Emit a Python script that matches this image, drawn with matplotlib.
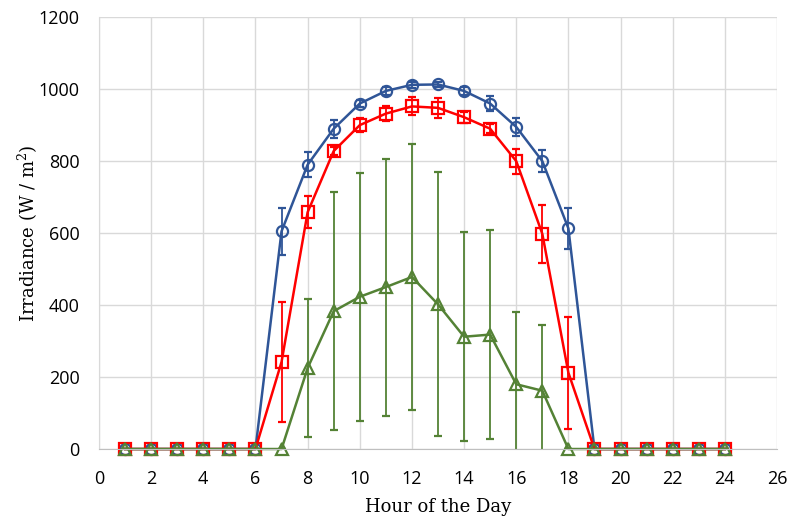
import matplotlib.pyplot as plt
import numpy as np

plt.rcParams['mathtext.fontset'] = 'custom'
plt.rcParams['mathtext.rm'] = 'DejaVu Serif'
plt.rcParams['mathtext.it'] = 'DejaVu Serif'

hours = list(range(1, 25))

# clear sky (blue circles)
clear = [0, 0, 0, 0, 0, 0, 605, 790, 890, 960, 995, 1012,
         1013, 995, 960, 895, 800, 613, 0, 0, 0, 0, 0, 0]
clear_err = [0, 0, 0, 0, 0, 0, 65, 35, 25, 10, 10, 8,
             8, 10, 20, 25, 30, 58, 0, 0, 0, 0, 0, 0]

# partly (red squares)
partly = [0, 0, 0, 0, 0, 0, 242, 658, 828, 900, 932, 952,
          948, 922, 890, 800, 598, 212, 0, 0, 0, 0, 0, 0]
partly_err = [0, 0, 0, 0, 0, 0, 166, 45, 12, 20, 20, 25,
              28, 15, 12, 35, 80, 155, 0, 0, 0, 0, 0, 0]

# cloudy (green triangles)
cloudy = [0, 0, 0, 0, 0, 0, 0, 225, 383, 423, 450, 478,
          402, 312, 318, 180, 162, 0, 0, 0, 0, 0, 0, 0]
cloudy_err = [0, 0, 0, 0, 0, 0, 0, 192, 330, 345, 357, 370,
              367, 290, 290, 202, 183, 0, 0, 0, 0, 0, 0, 0]

fig = plt.figure(figsize=(7.87, 5.2), dpi=100)
ax = fig.add_axes([0.1258, 0.1365, 0.8615, 0.8305])

series = [
    (clear, clear_err, '#2F5597', 'o'),
    (partly, partly_err, '#FF0000', 's'),
    (cloudy, cloudy_err, '#548235', '^'),
]
for vals, err, c, m in series:
    cont = ax.errorbar(hours, vals, yerr=err, color=c, marker=m, markersize=8,
                       markerfacecolor='none', markeredgewidth=1.6, linewidth=1.8,
                       elinewidth=1.3, capsize=3, capthick=1.3)
    # markers sit on the axis, keep them whole; error bars stop at 0
    cont[0].set_clip_on(False)

ax.set_xlim(0, 26)
ax.set_ylim(0, 1200)
ax.set_xticks(np.arange(0, 27, 2))
ax.set_yticks(np.arange(0, 1201, 200))
ax.grid(True, color='#D9D9D9', linewidth=1)
ax.set_axisbelow(True)
for s in ['top', 'right']:
    ax.spines[s].set_visible(False)
ax.spines['left'].set_color('#D9D9D9')
ax.spines['bottom'].set_color('#BFBFBF')
ax.tick_params(length=0, labelsize=13, labelcolor='#000000')
ax.tick_params(axis='x', pad=15)
ax.tick_params(axis='y', pad=14)
for lab in ax.get_xticklabels() + ax.get_yticklabels():
    lab.set_fontfamily('Open Sans')

ax.set_xlabel('Hour of the Day', fontsize=13, family='DejaVu Serif', labelpad=7)
ax.set_ylabel('Irradiance (W / m$^2$)', fontsize=13, family='DejaVu Serif', labelpad=-1)

fig.savefig('out.png', dpi=100)
